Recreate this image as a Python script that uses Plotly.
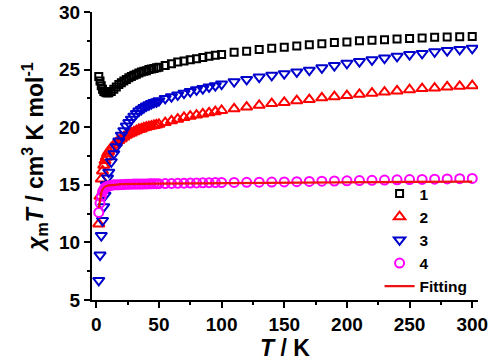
import plotly.graph_objects as go

# ---- data ----
T_low = [2, 3, 4, 5, 6, 7, 8, 9, 10, 12, 14, 16, 18, 20, 22, 24, 26, 28, 30, 32, 34, 36, 38, 40, 42, 44, 46, 48, 50,
         55, 60, 65, 70, 75, 80, 85, 90, 95, 100,
         110, 120, 130, 140, 150, 160, 170, 180, 190, 200, 210, 220, 230, 240, 250, 260, 270, 280, 290, 300]

s1 = [24.4, 24.0, 23.6, 23.3, 23.1, 23.05, 23.0, 23.0, 23.0, 23.1, 23.3, 23.5, 23.7, 23.85, 24.0, 24.15, 24.3, 24.4, 24.5,
      24.6, 24.7, 24.8, 24.85, 24.9, 25.0, 25.05, 25.1, 25.15, 25.2,
      25.35, 25.5, 25.65, 25.75, 25.85, 25.95, 26.05, 26.15, 26.25, 26.3,
      26.5, 26.6, 26.75, 26.85, 26.95, 27.05, 27.15, 27.25, 27.35, 27.4, 27.5, 27.55, 27.6, 27.65, 27.7, 27.75, 27.8,
      27.82, 27.85, 27.87]

s2 = [11.6, 14.0, 15.5, 16.2, 16.7, 17.1, 17.4, 17.7, 17.9, 18.2, 18.45, 18.65, 18.85, 19.0, 19.15, 19.3, 19.4, 19.5,
      19.6, 19.7, 19.8, 19.85, 19.95, 20.0, 20.05, 20.1, 20.15, 20.2, 20.25,
      20.4, 20.55, 20.7, 20.85, 20.95, 21.05, 21.15, 21.25, 21.35, 21.45,
      21.6, 21.75, 21.9, 22.05, 22.15, 22.3, 22.4, 22.55, 22.65, 22.75, 22.85, 22.95, 23.05, 23.15, 23.25, 23.35, 23.4,
      23.5, 23.55, 23.6]

s3 = [6.7, 8.9, 10.6, 11.9, 13.1, 14.1, 15.0, 15.6, 16.1, 17.0, 17.7, 18.3, 18.8, 19.3, 19.7, 20.1, 20.4, 20.7, 20.95,
      21.2, 21.4, 21.55, 21.7, 21.85, 21.95, 22.05, 22.15, 22.2, 22.3,
      22.5, 22.65, 22.8, 22.95, 23.1, 23.25, 23.35, 23.5, 23.6, 23.75,
      23.95, 24.15, 24.35, 24.5, 24.65, 24.8, 24.95, 25.15, 25.35, 25.55, 25.7, 25.85, 26.0, 26.15, 26.3, 26.4, 26.55,
      26.65, 26.75, 26.85]

s4 = [12.6, 13.4, 14.0, 14.4, 14.6, 14.75, 14.8, 14.85, 14.9, 14.95, 15.0, 15.0, 15.0, 15.02, 15.03, 15.04, 15.05, 15.05,
      15.06, 15.06, 15.07, 15.07, 15.08, 15.08, 15.09, 15.09, 15.1, 15.1, 15.1,
      15.11, 15.12, 15.13, 15.14, 15.15, 15.16, 15.17, 15.18, 15.19, 15.2,
      15.21, 15.22, 15.23, 15.24, 15.25, 15.27, 15.29, 15.31, 15.33, 15.35, 15.37, 15.39, 15.41, 15.43, 15.45, 15.47,
      15.49, 15.51, 15.53, 15.55]

fit_T = [2, 3, 4, 5, 6, 8, 10, 15, 20, 50, 100, 150, 200, 250, 300]
fit_v = [13.0, 13.8, 14.3, 14.6, 14.75, 14.9, 14.95, 15.0, 15.05, 15.1, 15.15, 15.2, 15.22, 15.25, 15.28]

names = ["1", "2", "3", "4", "Fitting"]
colors = ["#000000", "#ff0000", "#0000cc", "#ff00ff", "#ee1111"]
symbols = ["square-open", "triangle-up-open", "triangle-down-open", "circle-open"]
sizes = [7, 10, 10, 9]

FONT = "Liberation Sans, Arial, sans-serif"

fig = go.Figure()
for name, ys, c, sym, sz in zip(names[:4], [s1, s2, s3, s4], colors[:4], symbols, sizes):
    fig.add_trace(go.Scatter(x=T_low, y=ys, mode="markers", name=name,
                             marker=dict(symbol=sym, size=sz, color=c, line=dict(color=c, width=2))))
fig.add_trace(go.Scatter(x=fit_T, y=fit_v, mode="lines", name=names[4],
                         line=dict(color=colors[4], width=2.2)))

axis_common = dict(showline=True, linecolor="black", linewidth=2, ticks="outside", ticklen=6, tickwidth=2,
                   tickcolor="black", showgrid=False, zeroline=False, mirror=False, automargin=False,
                   ticklabeloverflow="allow",
                   tickfont=dict(family=FONT, size=19, color="black", weight="bold"))

fig.update_xaxes(range=[-3.4, 304.6], tickvals=[0, 50, 100, 150, 200, 250, 300],
                 minor=dict(ticks="outside", ticklen=3, tickwidth=2, tickcolor="black", dtick=25, tick0=0),
                 title=dict(text="<i>T</i> / K", font=dict(family=FONT, size=23, color="black", weight="bold"),
                            standoff=10),
                 **axis_common)
fig.update_yaxes(range=[5, 30], tickvals=[5, 10, 15, 20, 25, 30],
                 minor=dict(ticks="outside", ticklen=3, tickwidth=2, tickcolor="black", dtick=2.5, tick0=0),
                 title=dict(text="<i>χ</i><sub>m</sub><i>T</i> / cm<sup>3</sup> K mol<sup>-1</sup>",
                            font=dict(family=FONT, size=23, color="black", weight="bold"), standoff=9),
                 **axis_common)

fig.update_layout(
    width=491, height=361,
    margin=dict(l=92, r=13, t=12, b=61),
    paper_bgcolor="white", plot_bgcolor="white",
    showlegend=True,
    legend=dict(x=0.745, y=0.427, xanchor="left", yanchor="top", bgcolor="rgba(0,0,0,0)",
                font=dict(family=FONT, size=15.5, color="black", weight="bold"),
                tracegroupgap=0, itemsizing="trace"),
)

# remove the browser's default 8px body margin so the figure sits at the page origin
fig.write_html("out.html", config={"displayModeBar": False},
               post_script="document.body.style.margin='0';")
